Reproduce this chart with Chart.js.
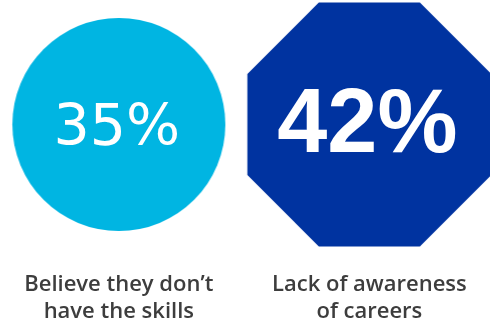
<!DOCTYPE html>
<html lang="en">
<head>
<meta charset="UTF-8">
<title>Career barriers</title>
<script src="https://cdn.jsdelivr.net/npm/chart.js"></script>
<style>
    * { margin: 0; padding: 0; box-sizing: border-box; }
    body { background: #fff; }
    .wrap { position: relative; width: 490px; height: 327px; }
</style>
</head>
<body>
<div class="wrap"><canvas id="barriers"></canvas></div>
<script>
    // Survey results
    const categories = [
        ['Believe they don\u2019t', 'have the skills'],
        ['Lack of awareness', 'of careers']
    ];
    const values = [35, 42];
    const colors = ['#00b5e2', '#0033a0'];

    // marker images: a plain disc and a flat-topped octagon
    function makeMarker(sides, inner, color) {
        const r = sides ? inner / Math.cos(Math.PI / sides) : inner;
        const size = Math.ceil(r * 2) + 2;
        const c = document.createElement('canvas');
        c.width = size;
        c.height = size;
        const g = c.getContext('2d');
        g.fillStyle = color;
        g.beginPath();
        if (!sides) {
            g.arc(size / 2, size / 2, r, 0, Math.PI * 2);
        } else {
            for (let k = 0; k < sides; k++) {
                const a = Math.PI / sides + k * 2 * Math.PI / sides;
                const px = size / 2 + r * Math.cos(a);
                const py = size / 2 + r * Math.sin(a);
                if (k === 0) g.moveTo(px, py); else g.lineTo(px, py);
            }
            g.closePath();
        }
        g.fill();
        return c;
    }
    const markers = [makeMarker(0, 106.5, colors[0]), makeMarker(8, 122, colors[1])];

    // percentage written inside each marker
    const valueText = {
        id: 'valueText',
        afterDatasetsDraw(chart) {
            const ctx = chart.ctx;
            const fonts = ['57px "DejaVu Sans"', 'bold 90px "Liberation Sans"'];
            const nudge = [-1, -5];
            chart.getDatasetMeta(0).data.forEach((pt, i) => {
                const txt = values[i] + '%';
                ctx.save();
                ctx.font = fonts[i];
                ctx.fillStyle = '#fff';
                ctx.textAlign = 'center';
                ctx.textBaseline = 'alphabetic';
                const m = ctx.measureText(txt);
                ctx.fillText(txt, pt.x - 2, pt.y + m.actualBoundingBoxAscent / 2 + nudge[i]);
                ctx.restore();
            });
        }
    };

    new Chart(document.getElementById('barriers'), {
        type: 'scatter',
        data: {
            datasets: [{
                data: values.map((v, i) => ({ x: i, y: 0 })),
                pointStyle: ctx => markers[ctx.dataIndex],
                pointRadius: 1,
                pointHoverRadius: 1,
                pointBorderWidth: 0,
                clip: false
            }]
        },
        options: {
            responsive: true,
            maintainAspectRatio: false,
            animation: false,
            events: [],
            layout: { padding: 0 },
            plugins: {
                legend: { display: false },
                tooltip: { enabled: false }
            },
            scales: {
                x: {
                    type: 'linear',
                    min: -0.4702,
                    max: 1.4742,
                    afterBuildTicks: scale => {
                        scale.ticks = values.map((v, i) => ({ value: i }));
                    },
                    afterFit: scale => { scale.height = 79; },
                    grid: { display: false, drawTicks: false },
                    border: { display: false },
                    ticks: {
                        autoSkip: false,
                        maxRotation: 0,
                        padding: 23,
                        color: '#3d3d3d',
                        font: { family: '"Open Sans"', size: 22, weight: 600, lineHeight: 1.23 },
                        callback: v => categories[v]
                    }
                },
                y: {
                    display: false,
                    min: -1,
                    max: 1
                }
            }
        },
        plugins: [valueText]
    });
</script>
</body>
</html>
